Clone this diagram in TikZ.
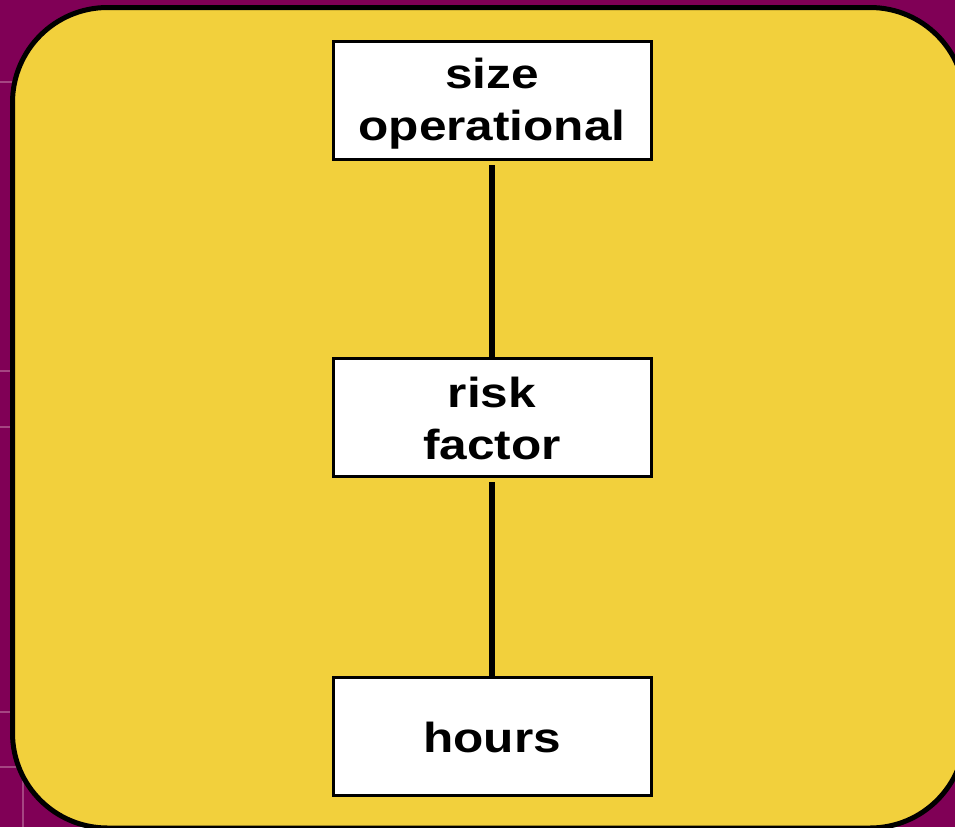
\documentclass[tikz,border=0pt]{standalone}
\usepackage{fontspec}
\setmainfont{Liberation Sans}
\usepackage{graphicx}
\definecolor{plum}{RGB}{128,0,86}
\definecolor{plumline}{RGB}{165,70,130}
\definecolor{panel}{RGB}{242,208,60}
\tikzset{
  panelbox/.style={draw=black, line width=5pt, fill=panel, rounded corners=95pt},
  itembox/.style={draw=black, line width=3pt, fill=white, minimum width=318pt, minimum height=118pt, inner sep=0pt},
  itemtext/.style={anchor=base, inner sep=0pt, font=\bfseries\fontsize{42}{52}\selectfont},
  link/.style={draw=black, line width=6pt, shorten <=4pt},
  tile/.style={draw=plumline, line width=1.5pt}
}
\newcommand{\itemlabel}[1]{\scalebox{1.18}[1]{\begin{tabular}[t]{@{}c@{}}#1\end{tabular}}}
\begin{document}
\begin{tikzpicture}[x=1pt,y=-1pt]
  \useasboundingbox (0,0) rectangle (955,827);
  \clip (0,0) rectangle (955,827);
  % backdrop with faint tile seams
  \fill[plum] (0,0) rectangle (955,827);
  \foreach \yy in {82,371,427,712,767} \draw[tile] (0,\yy) -- (40,\yy);
  \draw[tile] (23,767) -- (23,827);
  % yellow panel
  \draw[panelbox] (12.5,7.5) rectangle (965,828);
  % boxes
  \node[itembox] (top) at (492,100.5) {};
  \node[itembox] (mid) at (492,417.5) {};
  \node[itembox] (bot) at (492,736) {};
  % connectors
  \draw[link] (top.south) -- (mid.north);
  \draw[link] (mid.south) -- (bot.north);
  % labels
  \node[itemtext] (toptext) at (492,88) {\itemlabel{size\\operational}};
  \node[itemtext] (midtext) at (492,407) {\itemlabel{risk\\factor}};
  \node[itemtext] (bottext) at (492,752) {\itemlabel{hours}};
\end{tikzpicture}
\end{document}
